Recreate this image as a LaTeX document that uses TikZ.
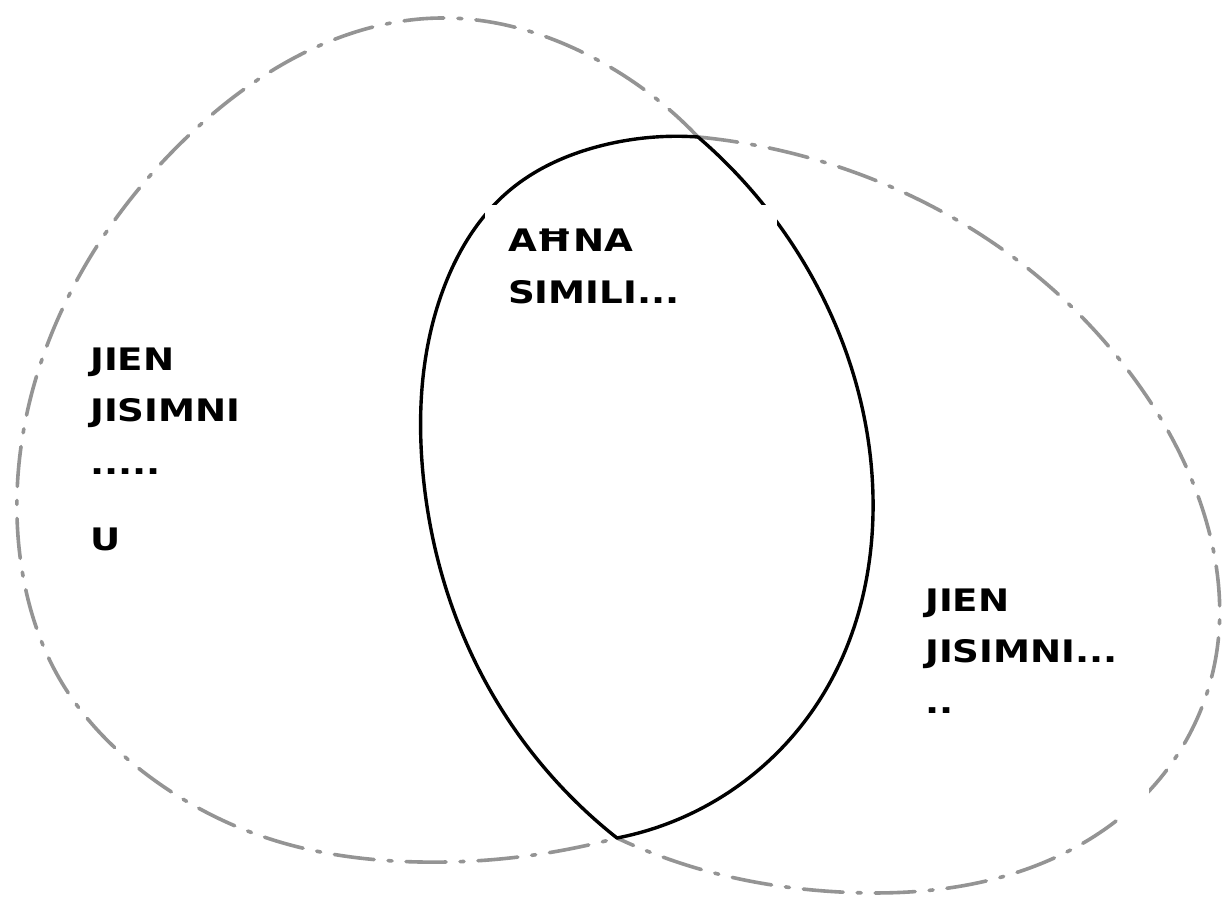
\documentclass[tikz,border=0pt]{standalone}
\usepackage{fontspec}
\usetikzlibrary{hobby}
\newfontfamily\comicfont[FakeStretch=1.2]{DejaVu Sans}
\begin{document}
\begin{tikzpicture}[x=1pt,y=-1pt,
  blob/.style={draw=black!42, line width=3.6pt, line cap=round, use Hobby shortcut,
    dash pattern=on 40pt off 14pt on 4pt off 14pt},
  lens/.style={draw=black, line width=3.4pt, line cap=round, use Hobby shortcut},
  cover/.style={fill=white, draw=none},
  lbl/.style={anchor=base west, inner sep=0pt,
    font=\comicfont\bfseries\fontsize{31}{36}\selectfont}]
\useasboundingbox[fill=white] (0,0) rectangle (1223,901);
% corners of the overlap
\coordinate (top) at (698,137);
\coordinate (bot) at (617,838);
% left blob (dash-dot part)
\draw[blob] (top) .. (588,55) .. (441,18) .. (294,58) .. (184,140)
  .. (77,280) .. (22,440) .. (22,570) .. (62,683) .. (150,777)
  .. (267,838) .. (420,862) .. (bot);
% right blob (dash-dot part)
\draw[blob] (top) .. (867,177) .. (1017,260) .. (1133,377) .. (1205,517)
  .. (1217,650) .. (1150,790) .. (998,878) .. (840,892) .. (703,870) .. (bot);
% overlap (lens)
\draw[lens] (top) .. (817,286) .. (873,497) .. (817,704) .. (bot);
\draw[lens] (bot) .. (485,681) .. (423,474) .. (443,290) .. (510,190)
  .. (600,146) .. (top);
% white boxes behind the labels
\path[cover] (485,205) rectangle (777,315);
\path[cover] (905,560) rectangle (1149,815);
% labels
\node[lbl] (m1) at (508,252) {AĦNA};
\node[lbl] (m2) at (508,303) {SIMILI...};
\node[lbl] (l1) at (90,370) {JIEN};
\node[lbl] (l2) at (90,421) {JISIMNI};
\node[lbl] (l3) at (90,474) {.....};
\node[lbl] (l4) at (90,550) {U};
\node[lbl] (r1) at (925,611) {JIEN};
\node[lbl] (r2) at (925,662) {JISIMNI...};
\node[lbl] (r3) at (925,713) {..};
\end{tikzpicture}
\end{document}
